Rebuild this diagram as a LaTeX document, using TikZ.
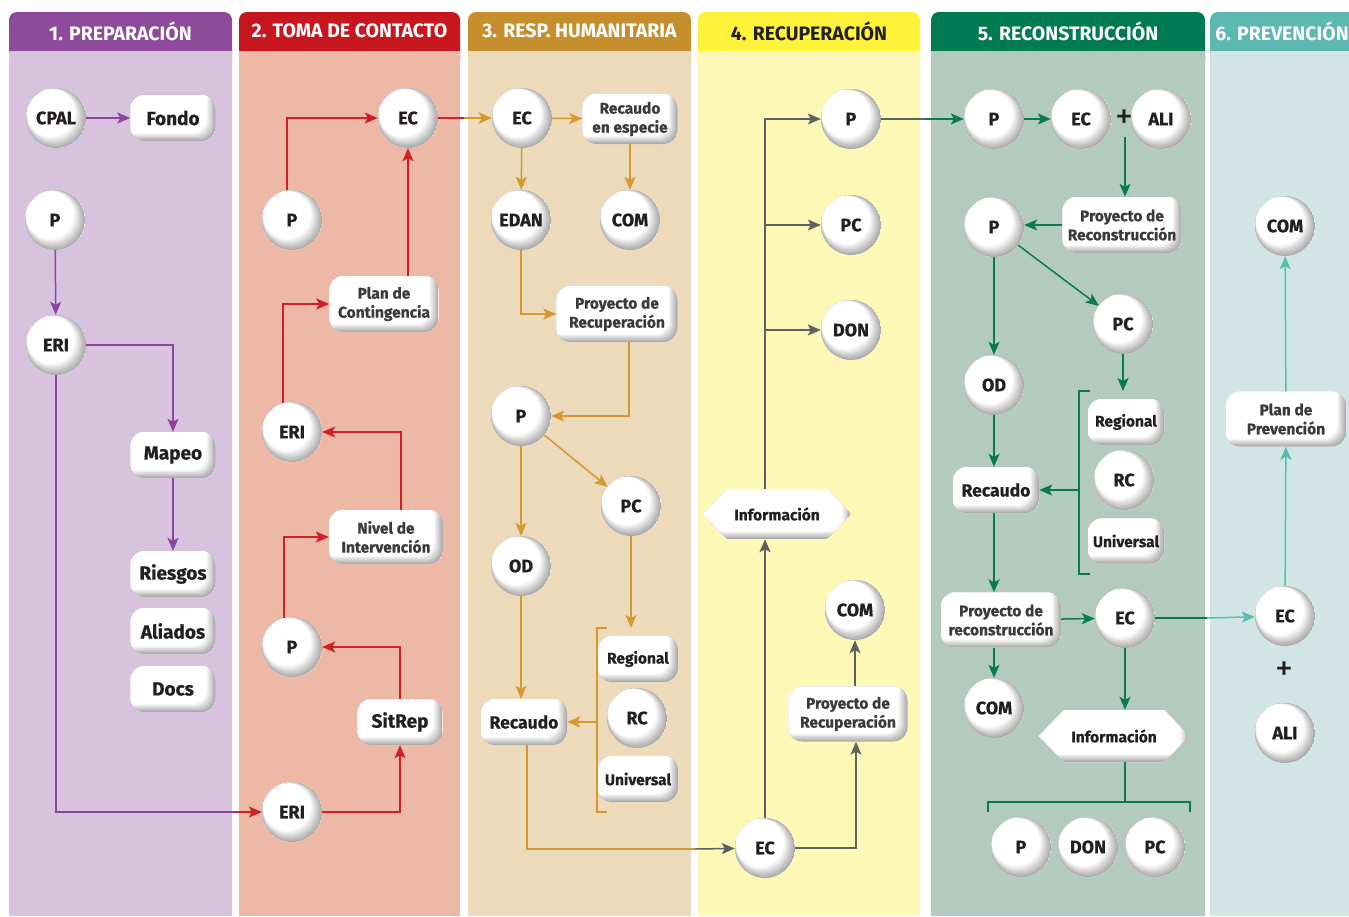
\documentclass[tikz,border=0pt]{standalone}
\usepackage{fontspec}
\setmainfont{Fira Sans}[BoldFeatures={FakeBold=0.6}]
\newfontfamily\hdrfont{Fira Sans}
\usetikzlibrary{arrows.meta,calc,shapes.symbols}
\definecolor{hA}{HTML}{8E4A9B}\definecolor{bA}{HTML}{D8C3DF}\definecolor{aA}{HTML}{8B44A0}
\definecolor{hB}{HTML}{C8161E}\definecolor{bB}{HTML}{EDB8A6}\definecolor{aB}{HTML}{D01F26}
\definecolor{hC}{HTML}{C68F2D}\definecolor{bC}{HTML}{ECDABA}\definecolor{aC}{HTML}{D4992F}
\definecolor{hD}{HTML}{FEF23B}\definecolor{bD}{HTML}{FEF8B7}\definecolor{aD}{HTML}{5F6062}
\definecolor{hE}{HTML}{007A52}\definecolor{bE}{HTML}{B3CBBF}\definecolor{aE}{HTML}{0A7A50}
\definecolor{hF}{HTML}{5DB8B2}\definecolor{bF}{HTML}{D1E6E4}\definecolor{aF}{HTML}{5BBBB3}
\definecolor{txt}{HTML}{231F20}\definecolor{txtb}{HTML}{3A3A3A}
\begin{document}
\begin{tikzpicture}[x=1pt,y=-1pt,
  sphfill/.style={path picture={
    \foreach \ii [evaluate=\ii as \kk using int(33-3.3*\ii)] in {0,...,10}
      \fill[black!\kk] ($(path picture bounding box.center)+(-0.5*\ii,-0.5*\ii)$) circle[radius=30-0.6*\ii];
  }},
  boxfill/.style={path picture={
    \foreach \ii [evaluate=\ii as \kk using int(33-3.3*\ii)] in {0,...,10}
      \fill[black!\kk, rounded corners=#1] ($(path picture bounding box.north west)+(-20,-20)$) rectangle ($(path picture bounding box.south east)+(-0.9*\ii,-0.8*\ii)$);
  }},
  sph/.style={circle, minimum size=60pt, inner sep=0pt, fill=white, sphfill, text=txt, font=\bfseries\fontsize{18}{18}\selectfont},
  bx/.style={rounded corners=14pt, fill=white, boxfill=14pt, inner sep=0pt, align=center, text=txt, font=\bfseries\fontsize{19}{19}\selectfont},
  bxs/.style={bx, text=txtb, font=\bfseries\fontsize{15.5}{19}\selectfont},
  bxm/.style={bx, font=\bfseries\fontsize{15.5}{15.5}\selectfont},
  hx/.style={signal, signal to=west and east, signal pointer angle=92, fill=white, boxfill=0pt, inner sep=0pt, text=txt, font=\bfseries\fontsize{15.5}{15.5}\selectfont},
  hdr/.style={text=white, font=\hdrfont\bfseries\fontsize{19.5}{19.5}\selectfont},
  plus/.style={text=txt, font=\fontsize{36}{36}\selectfont, inner sep=0pt},
  ln/.style={line width=1.5pt},
  ar/.style={-{Stealth[length=13pt,width=11pt,inset=3pt]}},
  lA/.style={ln, draw=aA}, lB/.style={ln, draw=aB}, lC/.style={ln, draw=aC},
  lD/.style={ln, draw=aD}, lE/.style={ln, draw=aE}, lF/.style={ln, draw=aF}]
\useasboundingbox (0,0) rectangle (1349,916);
\fill[white] (0,0) rectangle (1349,916);
% columns
\fill[hA, rounded corners=8pt] (9,12) rectangle (232,70);
\fill[hB, rounded corners=8pt] (239,12) rectangle (460,70);
\fill[hC, rounded corners=8pt] (468,12) rectangle (691,70);
\fill[hD, rounded corners=8pt] (698,12) rectangle (920,70);
\fill[hE, rounded corners=8pt] (931,12) rectangle (1205,70);
\fill[hF, rounded corners=8pt] (1210,12) rectangle (1360,70);
\fill[bA] (9,51) rectangle (232,916);
\fill[bB] (239,51) rectangle (460,916);
\fill[bC] (468,51) rectangle (691,916);
\fill[bD] (698,51) rectangle (920,916);
\fill[bE] (931,51) rectangle (1205,916);
\fill[bF] (1210,51) rectangle (1349,916);
\node[hdr] (t1) at (120.5,31) {1. PREPARACIÓN};
\node[hdr] (t2) at (349.5,31) {2. TOMA DE CONTACTO};
\node[hdr] (t3) at (579.5,31) {3. RESP. HUMANITARIA};
\node[hdr, text=txt] (t4) at (809,31) {4. RECUPERACIÓN};
\node[hdr] (t5) at (1068,31) {5. RECONSTRUCCIÓN};
\node[hdr] (t6) at (1282,31) {6. PREVENCIÓN};
% column 1
\node[sph] (cpal) at (56,118) {CPAL};
\node[bx, minimum width=85pt, minimum height=46pt] (fondo) at (173,118) {Fondo};
\node[sph] (p1) at (55,220) {P};
\node[sph] (eri1) at (56,345) {ERI};
\node[bx, minimum width=85pt, minimum height=46pt] (mapeo) at (173,455) {Mapeo};
\node[bx, minimum width=85pt, minimum height=46pt] (riesgos) at (173,574) {Riesgos};
\node[bx, minimum width=85pt, minimum height=46pt] (aliados) at (173,631) {Aliados};
\node[bx, minimum width=85pt, minimum height=46pt] (docs) at (173,689) {Docs};
% column 2
\node[sph] (ec2) at (408,118) {EC};
\node[sph] (p2a) at (292,220) {P};
\node[bxs, minimum width=109pt, minimum height=56pt] (plan) at (384,304) {Plan de\\Contingencia};
\node[sph] (eri2a) at (292,432) {ERI};
\node[bxs, minimum width=114pt, minimum height=54pt] (nivel) at (386,537) {Nivel de\\Intervención};
\node[sph] (p2b) at (292,647) {P};
\node[bx, minimum width=85pt, minimum height=46pt] (sitrep) at (400,722) {SitRep};
\node[sph] (eri2b) at (292,812) {ERI};
% column 3
\node[sph] (ec3) at (522,118) {EC};
\node[bxs, minimum width=95pt, minimum height=50pt] (recesp) at (630,119) {Recaudo\\en especie};
\node[sph] (edan) at (521,220) {EDAN};
\node[sph] (com3) at (630,220) {COM};
\node[bxs, minimum width=121pt, minimum height=56pt] (proy3) at (617,314) {Proyecto de\\Recuperación};
\node[sph] (p3) at (521,416) {P};
\node[sph] (pc3) at (631,506) {PC};
\node[sph] (od3) at (521,566) {OD};
\node[bxm, minimum width=80pt, minimum height=46pt] (reg3) at (638,659) {Regional};
\node[sph] (rc3) at (637,718) {RC};
\node[bxm, minimum width=80pt, minimum height=46pt] (uni3) at (638,779) {Universal};
\node[bx, minimum width=86pt, minimum height=46pt, font=\bfseries\fontsize{17.5}{17.5}\selectfont] (rec3) at (524,722) {Recaudo};
% column 4
\node[sph] (p4) at (851,119) {P};
\node[sph] (pc4) at (851,225) {PC};
\node[sph] (don4) at (851,330) {DON};
\node[hx, minimum width=148pt, minimum height=50pt] (info4) at (777,514) {Información};
\node[sph] (com4) at (855,610) {COM};
\node[bxs, minimum width=119pt, minimum height=55pt] (proy4) at (848,714) {Proyecto de\\Recuperación};
\node[sph] (ec4) at (765,848) {EC};
% column 5
\node[sph] (p5) at (994,119) {P};
\node[sph] (ec5a) at (1081,119) {EC};
\node[plus] (plus5) at (1124,119) {+};
\node[sph] (ali5) at (1161,119) {ALI};
\node[bxs, minimum width=119pt, minimum height=56pt] (proy5a) at (1122,225) {Proyecto de\\Reconstrucción};
\node[sph] (p5b) at (994,227) {P};
\node[sph] (pc5) at (1123,324) {PC};
\node[sph] (od5) at (994,385) {OD};
\node[bxm, minimum width=76pt, minimum height=46pt] (reg5) at (1126,422) {Regional};
\node[sph] (rc5) at (1124,480) {RC};
\node[bxm, minimum width=76pt, minimum height=45pt] (uni5) at (1126,541) {Universal};
\node[bx, minimum width=86pt, minimum height=46pt, font=\bfseries\fontsize{17.5}{17.5}\selectfont] (rec5) at (996,490) {Recaudo};
\node[bxs, minimum width=120pt, minimum height=55pt] (proy5b) at (1001,620) {Proyecto de\\reconstrucción};
\node[sph] (ec5b) at (1125,618) {EC};
\node[sph] (com5) at (994,708) {COM};
\node[hx, minimum width=150pt, minimum height=52pt] (info5) at (1114,736) {Información};
\node[sph] (pb) at (1021,847) {P};
\node[sph] (donb) at (1088,847) {DON};
\node[sph] (pcb) at (1155,847) {PC};
% column 6
\node[sph] (com6) at (1285,226) {COM};
\node[bxs, minimum width=120pt, minimum height=55pt] (plan6) at (1286,419) {Plan de\\Prevención};
\node[sph] (ec6) at (1285,616) {EC};
\node[plus] (plus6) at (1284,671) {+};
\node[sph] (ali6) at (1285,733) {ALI};
% helper coordinates
\coordinate (m12) at (236,812);
\coordinate (m23) at (464,118);
\coordinate (m34) at (695,849);
\coordinate (m45) at (926,119);
\coordinate (m56) at (1207,618);
\coordinate (br3t) at (597,628);
\coordinate (br3b) at (597,812);
\coordinate (br5t) at (1079,391);
\coordinate (br5b) at (1079,574);
\coordinate (plusb) at (1125,137);
\coordinate (bl) at (988,812);
\coordinate (br) at (1190,812);
% connectors column 1
\draw[lA,ar] (cpal) -- (fondo);
\draw[lA,ar] (p1) -- (eri1);
\draw[lA,ar] (eri1) -| (mapeo);
\draw[lA,ar] (mapeo) -- (riesgos);
\draw[lA] (eri1) |- (m12);
\draw[lB,ar] (m12) -- (eri2b);
% column 2
\draw[lB,ar] (p2a.100) |- (ec2);
\draw[lB,ar] (plan.north -| ec2) -- (ec2);
\draw[lB,ar] (eri2a.107) |- (plan.west);
\draw[lB,ar] ($(nivel.north)+(15,0)$) |- (eri2a);
\draw[lB,ar] (p2b.105) |- (nivel.west);
\draw[lB,ar] (sitrep) |- (p2b);
\draw[lB,ar] (eri2b) -| (sitrep);
\draw[lB] (ec2) -- (m23);
\draw[lC,ar] (m23) -- (ec3);
% column 3
\draw[lC,ar] (ec3) -- (recesp);
\draw[lC,ar] (ec3) -- (edan);
\draw[lC,ar] (recesp) -- (com3);
\draw[lC,ar] (edan) |- (proy3);
\draw[lC,ar] ($(proy3.south)+(12,0)$) |- (p3);
\draw[lC,ar] (p3) -- (pc3);
\draw[lC,ar] (p3) -- (od3);
\draw[lC,ar] (pc3) -- (pc3 |- br3t);
\draw[lC] ($(br3t)+(10,0)$) -- (br3t) -- (br3b) -- ++(10,0);
\draw[lC,ar] (br3t |- rec3) -- (rec3);
\draw[lC,ar] (od3) -- (od3 |- rec3.north);
\draw[lC] ($(rec3.south)+(3,0)$) |- (m34);
\draw[lD,ar] (m34) -- (ec4);
% column 4
\draw[lD,ar] (ec4) -- (ec4 |- info4.south);
\draw[lD,ar] (ec4 |- info4.north) |- (p4);
\draw[lD,ar] (ec4 |- pc4) -- (pc4);
\draw[lD,ar] (ec4 |- don4) -- (don4);
\draw[lD,ar] (ec4) -| ($(proy4.south)+(8,0)$);
\draw[lD,ar] (proy4.north -| com4) -- (com4);
\draw[lD] (p4) -- (m45);
\draw[lE,ar] (m45) -- (p5);
% column 5
\draw[lE,ar] (p5) -- (ec5a);
\draw[lE,ar] (plusb) -- (plusb |- proy5a.north);
\draw[lE,ar] (proy5a.west) -- (p5b.east |- proy5a.west);
\draw[lE,ar] (p5b) -- (od5);
\draw[lE,ar] (p5b) -- (pc5);
\draw[lE,ar] (pc5) -- (pc5 |- br5t);
\draw[lE] ($(br5t)+(11,0)$) -- (br5t) -- (br5b) -- ++(11,0);
\draw[lE,ar] (br5t |- rec5) -- (rec5);
\draw[lE,ar] (od5) -- (od5 |- rec5.north);
\draw[lE,ar] (rec5.south -| od5) -- (od5 |- proy5b.north);
\draw[lE,ar] (proy5b) -- (ec5b);
\draw[lE,ar] (com5 |- proy5b.south) -- (com5);
\draw[lE,ar] (ec5b) -- (ec5b |- info5.north);
\draw[lE] (ec5b |- info5.south) -- ($(ec5b |- bl)+(0,-10)$);
\draw[lE] (bl) -- ++(0,-10) -- ($(br)+(0,-10)$) -- (br);
\draw[lE] (ec5b) -- (m56);
\draw[lF,ar] (m56) -- (ec6);
% column 6
\draw[lF,ar] (ec6) -- (plan6);
\draw[lF,ar] (plan6) -- (com6);
\end{tikzpicture}
\end{document}
